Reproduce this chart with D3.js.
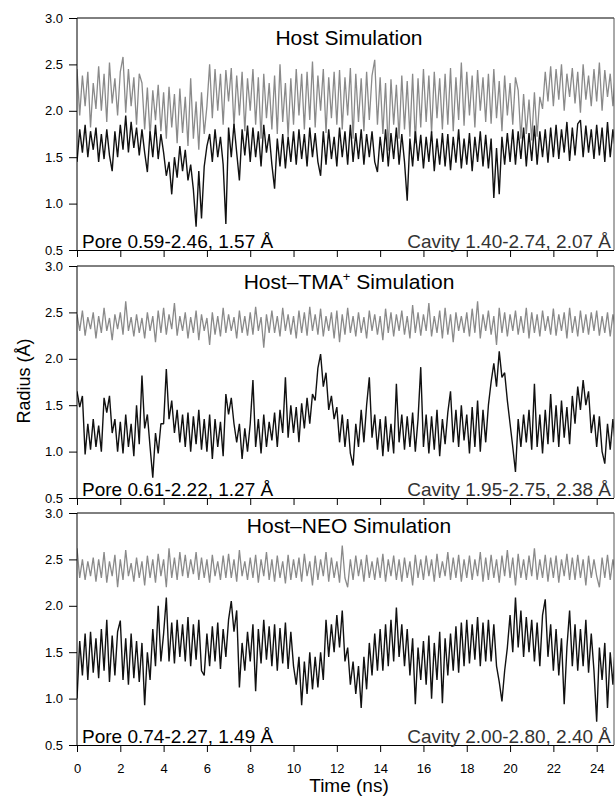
<!DOCTYPE html>
<html>
<head>
<meta charset="utf-8">
<script src="https://cdn.jsdelivr.net/npm/d3@7"></script>
<style>
  body { margin: 0; background: #fff; }
  svg { display: block; font-family: "Liberation Sans", Arial, Helvetica, sans-serif; }
</style>
</head>
<body>
<svg id="chart" width="616" height="798"></svg>
<script>
// Pore / cavity radius traces, one sample every 0.125 ns
const timeStep = 0.125;

const hostCavity = [
  2.45, 1.95, 2.38, 2.05, 2.42, 1.82, 2.30, 2.02, 2.48, 2.00, 2.40, 1.88, 2.52, 2.08, 2.35, 1.95,
  2.42, 2.58, 1.98, 2.45, 2.05, 2.36, 1.85, 2.40, 2.30, 1.80, 2.25, 1.72, 2.22, 1.90, 2.28, 1.78,
  2.20, 1.70, 2.26, 1.82, 2.18, 1.65, 2.24, 1.76, 2.15, 1.62, 2.35, 1.70, 2.10, 1.58, 2.20, 1.75,
  2.05, 2.50, 1.92, 2.45, 2.00, 2.40, 1.85, 2.44, 2.10, 2.46, 1.82, 2.38, 1.95, 2.42, 1.78, 2.35,
  2.00, 2.45, 1.85, 2.36, 1.70, 2.40, 1.92, 2.30, 1.80, 2.38, 1.75, 2.50, 1.88, 2.30, 1.72, 2.35,
  1.85, 2.45, 1.95, 2.40, 1.80, 2.42, 1.90, 2.53, 1.82, 2.38, 2.00, 2.45, 1.76, 2.36, 1.92, 2.42,
  1.85, 2.44, 1.80, 2.36, 1.95, 2.46, 1.70, 2.40, 1.88, 2.35, 1.78, 2.42, 1.90, 2.38, 2.55, 1.85,
  2.36, 1.75, 2.30, 1.57, 2.34, 1.85, 2.28, 1.70, 2.38, 1.80, 2.32, 1.72, 2.40, 1.65, 2.35, 1.82,
  2.45, 1.88, 2.38, 1.76, 2.42, 1.92, 2.35, 1.80, 2.40, 1.85, 2.46, 1.78, 2.36, 1.90, 2.52, 1.84,
  2.42, 1.95, 2.38, 1.82, 2.44, 2.00, 2.36, 1.88, 2.40, 1.86, 2.45, 1.92, 2.32, 1.78, 2.38, 1.95,
  2.30, 1.85, 2.36, 2.22, 1.70, 2.18, 1.75, 2.12, 1.68, 2.20, 1.72, 2.15, 2.02, 2.42, 2.10, 2.48,
  2.05, 2.45, 2.12, 2.50, 2.00, 2.40, 2.15, 2.46, 2.08, 2.42, 1.98, 2.50, 2.12, 2.38, 2.05, 2.45,
  2.10, 2.52, 2.00, 2.44, 2.15, 2.40, 2.05, 2.46
];
const hostPore = [
  1.45, 1.80, 1.55, 1.85, 1.50, 1.78, 1.58, 1.82, 1.45, 1.75, 1.48, 1.80, 1.52, 1.35, 1.78, 1.50,
  1.85, 1.58, 1.95, 1.55, 1.88, 1.60, 1.82, 1.52, 1.80, 1.55, 1.34, 1.78, 1.50, 1.85, 1.48, 1.75,
  1.55, 1.30, 1.45, 1.10, 1.50, 1.28, 1.62, 1.35, 1.58, 1.25, 1.42, 1.15, 0.75, 1.35, 0.84, 1.40,
  1.62, 1.75, 1.45, 1.80, 1.50, 1.72, 1.42, 0.78, 1.82, 1.50, 1.86, 1.55, 1.25, 1.80, 1.52, 1.84,
  1.45, 1.82, 1.50, 1.78, 1.40, 1.85, 1.55, 1.75, 1.42, 1.16, 1.70, 1.40, 1.75, 1.38, 1.72, 1.45,
  1.78, 1.42, 1.80, 1.48, 1.75, 1.40, 1.82, 1.50, 1.76, 1.45, 1.30, 1.78, 1.42, 1.80, 1.48, 1.72,
  1.40, 1.82, 1.50, 1.78, 1.42, 1.85, 1.45, 1.76, 1.48, 1.80, 1.42, 1.75, 1.50, 1.78, 1.45, 1.34,
  1.72, 1.45, 1.80, 1.40, 1.76, 1.48, 1.82, 1.42, 1.75, 1.45, 1.03, 1.70, 1.40, 1.78, 1.46, 1.74,
  1.38, 1.72, 1.45, 1.78, 1.35, 1.70, 1.42, 1.76, 1.40, 1.75, 1.36, 1.72, 1.44, 1.80, 1.38, 1.70,
  1.42, 1.76, 1.35, 1.72, 1.45, 1.78, 1.40, 1.74, 1.38, 1.70, 1.06, 1.60, 1.10, 1.72, 1.42, 1.76,
  1.45, 1.80, 1.42, 1.78, 1.48, 1.82, 1.40, 1.76, 1.46, 1.84, 1.42, 1.78, 1.50, 1.80, 1.44, 1.82,
  1.50, 1.85, 1.48, 1.80, 1.55, 1.88, 1.46, 1.82, 1.52, 1.86, 1.90, 1.50, 1.84, 1.55, 1.80, 1.48,
  1.85, 1.52, 1.82, 1.45, 1.88, 1.50, 1.80, 1.55
];
const tmaCavity = [
  2.48, 2.30, 2.52, 2.25, 2.45, 2.32, 2.50, 2.22, 2.46, 2.28, 2.55, 2.30, 2.44, 2.20, 2.48, 2.32,
  2.50, 2.26, 2.62, 2.30, 2.45, 2.24, 2.48, 2.28, 2.44, 2.22, 2.50, 2.30, 2.46, 2.18, 2.52, 2.28,
  2.55, 2.26, 2.48, 2.32, 2.60, 2.25, 2.46, 2.30, 2.50, 2.22, 2.45, 2.28, 2.52, 2.20, 2.48, 2.30,
  2.44, 2.15, 2.50, 2.26, 2.46, 2.24, 2.55, 2.28, 2.48, 2.30, 2.45, 2.22, 2.52, 2.28, 2.46, 2.25,
  2.50, 2.26, 2.56, 2.30, 2.45, 2.12, 2.48, 2.28, 2.52, 2.28, 2.46, 2.24, 2.55, 2.30, 2.48, 2.26,
  2.46, 2.22, 2.52, 2.28, 2.50, 2.25, 2.56, 2.30, 2.48, 2.26, 2.54, 2.24, 2.46, 2.30, 2.50, 2.22,
  2.52, 2.18, 2.48, 2.26, 2.55, 2.28, 2.46, 2.24, 2.50, 2.28, 2.45, 2.22, 2.52, 2.30, 2.48, 2.26,
  2.46, 2.20, 2.54, 2.28, 2.50, 2.24, 2.48, 2.30, 2.52, 2.26, 2.46, 2.22, 2.58, 2.28, 2.50, 2.25,
  2.48, 2.30, 2.60, 2.24, 2.46, 2.28, 2.52, 2.22, 2.55, 2.26, 2.48, 2.18, 2.50, 2.30, 2.46, 2.28,
  2.50, 2.24, 2.54, 2.28, 2.62, 2.22, 2.48, 2.30, 2.52, 2.26, 2.46, 2.15, 2.55, 2.28, 2.50, 2.24,
  2.48, 2.30, 2.52, 2.26, 2.46, 2.28, 2.55, 2.22, 2.50, 2.28, 2.48, 2.24, 2.52, 2.30, 2.46, 2.26,
  2.54, 2.25, 2.48, 2.30, 2.50, 2.22, 2.55, 2.28, 2.46, 2.24, 2.52, 2.28, 2.48, 2.26, 2.50, 2.30,
  2.52, 2.25, 2.46, 2.28, 2.50, 2.24, 2.48, 2.30
];
const tmaPore = [
  1.65, 1.48, 1.60, 0.97, 1.30, 1.02, 1.35, 1.05, 1.28, 1.00, 1.58, 1.42, 1.60, 1.20, 1.35, 1.00,
  1.32, 0.98, 1.40, 1.05, 1.30, 0.95, 1.50, 1.08, 1.82, 1.25, 1.40, 1.05, 0.72, 1.20, 0.98, 1.30,
  1.30, 1.89, 1.35, 1.55, 1.20, 1.45, 1.10, 1.40, 1.05, 1.42, 1.00, 1.38, 1.08, 1.45, 1.02, 1.35,
  1.00, 1.40, 0.92, 1.35, 1.05, 1.32, 0.95, 1.62, 1.40, 1.58, 1.30, 1.10, 1.30, 0.92, 1.25, 1.00,
  1.30, 1.77, 1.05, 1.35, 0.98, 1.40, 1.05, 1.32, 1.12, 1.42, 1.05, 1.45, 1.20, 1.80, 1.15, 1.50,
  1.20, 1.48, 1.10, 1.52, 1.25, 1.58, 1.30, 1.62, 1.55, 1.90, 2.05, 1.70, 1.85, 1.45, 1.60, 1.35,
  1.48, 1.10, 1.40, 1.05, 1.35, 0.98, 0.85, 1.30, 1.05, 1.45, 1.10, 1.50, 1.80, 1.15, 1.40, 1.02,
  1.35, 0.95, 1.38, 1.00, 1.30, 0.98, 1.73, 1.10, 1.40, 1.02, 1.38, 1.05, 1.42, 1.00, 1.35, 1.91,
  1.05, 1.40, 0.98, 1.38, 1.02, 1.45, 0.95, 1.35, 1.08, 1.42, 1.65, 1.10, 1.45, 1.05, 1.50, 1.12,
  1.40, 0.98, 1.48, 1.05, 1.55, 1.00, 1.45, 1.10, 1.50, 1.75, 1.95, 1.70, 2.08, 1.80, 1.85, 1.55,
  1.30, 1.05, 0.78, 1.35, 1.05, 1.40, 1.10, 1.45, 1.02, 1.73, 1.05, 1.40, 0.98, 1.45, 1.08, 1.62,
  1.10, 1.50, 1.05, 1.55, 1.15, 1.48, 1.08, 1.60, 1.30, 1.70, 1.45, 1.77, 1.50, 1.65, 1.20, 1.40,
  1.05, 1.38, 1.00, 0.87, 1.30, 1.02, 1.35, 1.05
];
const neoCavity = [
  2.62, 2.30, 2.50, 2.28, 2.48, 2.32, 2.52, 2.26, 2.50, 2.30, 2.58, 2.25, 2.48, 2.32, 2.55, 2.20,
  2.50, 2.28, 2.60, 2.32, 2.46, 2.26, 2.52, 2.30, 2.48, 2.22, 2.54, 2.30, 2.50, 2.25, 2.56, 2.32,
  2.50, 2.20, 2.62, 2.30, 2.52, 2.28, 2.58, 2.32, 2.55, 2.30, 2.50, 2.34, 2.58, 2.28, 2.52, 2.30,
  2.50, 2.25, 2.55, 2.32, 2.48, 2.28, 2.54, 2.30, 2.56, 2.30, 2.50, 2.26, 2.60, 2.32, 2.48, 2.28,
  2.52, 2.30, 2.55, 2.25, 2.50, 2.32, 2.58, 2.28, 2.50, 2.26, 2.54, 2.30, 2.48, 2.24, 2.55, 2.28,
  2.50, 2.30, 2.52, 2.26, 2.56, 2.32, 2.48, 2.22, 2.54, 2.28, 2.50, 2.32, 2.58, 2.26, 2.52, 2.30,
  2.48, 2.25, 2.65, 2.30, 2.20, 2.50, 2.28, 2.54, 2.32, 2.50, 2.26, 2.55, 2.30, 2.48, 2.28, 2.52,
  2.30, 2.56, 2.26, 2.50, 2.32, 2.54, 2.28, 2.50, 2.26, 2.52, 2.30, 2.48, 2.22, 2.55, 2.30, 2.50,
  2.28, 2.54, 2.32, 2.50, 2.26, 2.56, 2.30, 2.48, 2.32, 2.58, 2.28, 2.52, 2.30, 2.55, 2.26, 2.50,
  2.30, 2.54, 2.28, 2.50, 2.32, 2.58, 2.26, 2.52, 2.28, 2.55, 2.30, 2.50, 2.25, 2.54, 2.32, 2.60,
  2.30, 2.52, 2.22, 2.56, 2.30, 2.50, 2.28, 2.54, 2.32, 2.62, 2.28, 2.50, 2.30, 2.55, 2.26, 2.52,
  2.30, 2.54, 2.25, 2.50, 2.32, 2.56, 2.28, 2.52, 2.28, 2.55, 2.30, 2.50, 2.22, 2.54, 2.30, 2.50,
  2.32, 2.20, 2.52, 2.30, 2.55, 2.28, 2.50, 2.32
];
const neoPore = [
  1.00, 1.62, 1.25, 1.70, 1.20, 1.72, 1.28, 1.65, 1.22, 1.75, 1.30, 1.85, 1.18, 1.68, 1.25, 1.72,
  1.84, 1.20, 1.65, 1.15, 1.70, 1.22, 1.62, 1.18, 1.60, 0.93, 1.50, 1.20, 1.75, 1.35, 2.00, 1.40,
  1.70, 2.09, 1.40, 1.82, 1.38, 1.85, 1.45, 1.80, 1.40, 1.88, 1.35, 1.80, 1.42, 1.85, 1.30, 1.25,
  1.70, 1.35, 1.78, 1.40, 1.82, 1.32, 1.75, 1.45, 1.85, 2.05, 1.72, 1.95, 1.12, 1.60, 1.30, 1.72,
  1.40, 1.80, 1.08, 1.75, 1.38, 1.85, 1.42, 1.78, 1.35, 1.80, 1.30, 1.76, 1.38, 1.82, 1.32, 1.72,
  1.35, 1.15, 1.45, 0.93, 1.40, 1.05, 1.50, 1.10, 1.45, 1.12, 1.50, 1.20, 1.85, 1.45, 1.80, 1.50,
  1.90, 1.55, 1.95, 1.40, 1.55, 1.15, 1.40, 1.05, 1.35, 0.90, 1.45, 1.10, 1.60, 1.25, 1.70, 1.30,
  1.75, 1.30, 1.80, 1.35, 1.85, 1.40, 1.98, 1.45, 1.80, 1.35, 1.75, 1.25, 1.65, 0.94, 1.55, 1.20,
  1.62, 1.15, 1.68, 1.00, 1.60, 1.20, 1.72, 0.95, 1.65, 1.25, 1.70, 1.30, 1.78, 1.28, 1.82, 1.35,
  1.85, 1.38, 1.80, 1.42, 1.88, 1.35, 1.82, 1.40, 1.85, 1.40, 1.80, 1.35, 1.18, 0.97, 1.30, 1.55,
  1.90, 1.50, 2.09, 1.55, 1.95, 1.45, 1.88, 1.50, 1.85, 1.40, 1.82, 1.35, 1.90, 2.07, 1.45, 1.80,
  1.30, 1.75, 1.25, 1.65, 0.94, 1.55, 1.95, 1.35, 1.80, 1.30, 1.75, 1.35, 1.85, 1.28, 1.70, 1.30,
  0.75, 1.55, 1.20, 1.60, 0.90, 1.50, 1.15, 1.62
];

const panelCavity = [hostCavity, tmaCavity, neoCavity];
const panelPore = [hostPore, tmaPore, neoPore];
const titleMain = ['Host', 'Host\u2013TMA', 'Host\u2013NEO'];
const titleSup = ['', '+', ''];
const poreLabels = ['Pore 0.59-2.46, 1.57 \u00c5', 'Pore 0.61-2.22, 1.27 \u00c5', 'Pore 0.74-2.27, 1.49 \u00c5'];
const cavityLabels = ['Cavity 1.40-2.74, 2.07 \u00c5', 'Cavity 1.95-2.75, 2.38 \u00c5', 'Cavity 2.00-2.80, 2.40 \u00c5'];
const yTicks = [0.5, 1.0, 1.5, 2.0, 2.5, 3.0];
const xTicks = [0, 2, 4, 6, 8, 10, 12, 14, 16, 18, 20, 22, 24];

// layout
const left = 77, right = 614;
const panelTops = [18, 266, 513];
const panelHeight = 232;
const titleBase = [45, 289, 533];

const svg = d3.select('#chart');
const x = d3.scaleLinear().domain([0, 24.8]).range([left, right]);

panelTops.forEach((top, i) => {
  const y = d3.scaleLinear().domain([0.5, 3.0]).range([top + panelHeight, top]);
  const g = svg.append('g').attr('class', 'panel');

  g.append('clipPath').attr('id', 'clip' + i)
    .append('rect')
      .attr('x', left).attr('y', top)
      .attr('width', right - left).attr('height', panelHeight);

  const line = d3.line()
    .x((d, j) => x(j * timeStep))
    .y(d => y(d));

  // grey = cavity, black = pore (drawn on top)
  const traces = g.append('g').attr('clip-path', 'url(#clip' + i + ')');
  traces.append('path')
    .attr('d', line(panelCavity[i]))
    .attr('fill', 'none')
    .attr('stroke', '#8a8a8a')
    .attr('stroke-width', 1.3)
    .attr('stroke-linejoin', 'bevel');
  traces.append('path')
    .attr('d', line(panelPore[i]))
    .attr('fill', 'none')
    .attr('stroke', '#111')
    .attr('stroke-width', 1.4)
    .attr('stroke-linejoin', 'bevel');

  // frame: top and right edges
  g.append('line')
    .attr('x1', left).attr('x2', right).attr('y1', top).attr('y2', top)
    .attr('stroke', '#000');
  g.append('line')
    .attr('x1', right).attr('x2', right).attr('y1', top).attr('y2', top + panelHeight)
    .attr('stroke', '#555');

  const yAxis = g.append('g')
    .attr('transform', `translate(${left},0)`)
    .call(d3.axisLeft(y).tickValues(yTicks).tickFormat(d3.format('.1f')).tickSize(8).tickPadding(6));
  yAxis.select('.domain').remove();
  yAxis.append('line')
    .attr('y1', top).attr('y2', top + panelHeight)
    .attr('stroke', '#000');

  const xAxis = g.append('g')
    .attr('transform', `translate(0,${top + panelHeight})`)
    .call(d3.axisBottom(x).tickValues(xTicks).tickSize(7).tickPadding(12)
      .tickFormat(i === 2 ? d3.format('d') : () => ''));
  xAxis.select('.domain').attr('d', `M${left - 8},0.5H${right}`);

  svg.selectAll('.tick text')
    .attr('font-size', 13)
    .attr('font-family', '"Liberation Sans", Arial, sans-serif')
    .attr('fill', '#000');

  const title = g.append('text')
    .attr('x', 349).attr('y', titleBase[i])
    .attr('text-anchor', 'middle')
    .attr('font-size', 21);
  title.append('tspan').text(titleMain[i]);
  if (titleSup[i]) {
    title.append('tspan').attr('font-size', 13).attr('dy', -8).text(titleSup[i]);
    title.append('tspan').attr('dy', 8).text(' Simulation');
  } else {
    title.append('tspan').text(' Simulation');
  }

  g.append('text')
    .attr('x', 82).attr('y', top + panelHeight - 2)
    .attr('font-size', 19)
    .text(poreLabels[i]);
  g.append('text')
    .attr('x', 611).attr('y', top + panelHeight - 2)
    .attr('text-anchor', 'end')
    .attr('font-size', 19)
    .attr('fill', '#333')
    .text(cavityLabels[i]);
});

svg.append('text')
  .attr('transform', 'translate(30,381) rotate(-90)')
  .attr('text-anchor', 'middle')
  .attr('font-size', 18)
  .text('Radius (\u00c5)');

svg.append('text')
  .attr('x', 349).attr('y', 792)
  .attr('text-anchor', 'middle')
  .attr('font-size', 19)
  .text('Time (ns)');
</script>
</body>
</html>
